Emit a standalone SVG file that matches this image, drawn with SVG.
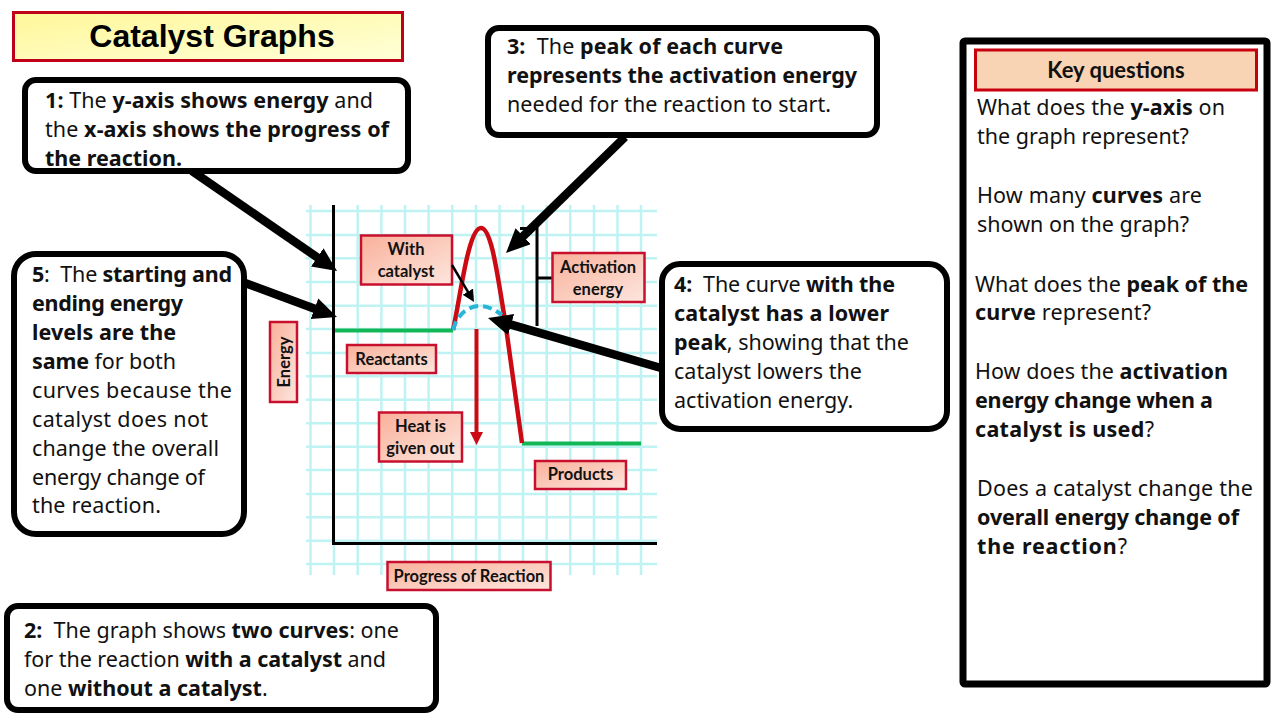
<svg xmlns="http://www.w3.org/2000/svg" width="1280" height="720" viewBox="0 0 1280 720">
<defs>
<linearGradient id="ttl" x1="0" y1="0" x2="1" y2="1"><stop offset="0" stop-color="#fff799"/><stop offset="1" stop-color="#ffffd8"/></linearGradient>
<linearGradient id="lab" x1="0" y1="0" x2="1" y2="1"><stop offset="0" stop-color="#f9b09a"/><stop offset="1" stop-color="#fde6de"/></linearGradient>
<marker id="big" markerUnits="userSpaceOnUse" markerWidth="26" markerHeight="24" refX="6" refY="11" orient="auto"><path d="M0 0L24 11L0 22Z" fill="#000"/></marker>
<marker id="small" markerUnits="userSpaceOnUse" markerWidth="14" markerHeight="14" refX="4" refY="6" orient="auto"><path d="M0 0L12 6L0 12Z" fill="#000"/></marker>
</defs>
<style>
text{font-family:"Noto Sans","Open Sans","Liberation Sans",sans-serif;fill:#111}
.b{font-weight:700}
.box{fill:#fff;stroke:#000;stroke-width:6}
.t{font-size:21.500px}
.q{font-size:21.500px}
.lab{fill:url(#lab);stroke:#c8102e;stroke-width:2.500}
.lt{font-family:Lato,"Liberation Sans",sans-serif;font-size:16.500px;font-weight:700;text-anchor:middle}
.arr{stroke:#000;stroke-width:8.500;fill:none}
</style>
<rect width="1280" height="720" fill="#fff"/>

<g id="title"><rect x="13.500" y="12.500" width="389" height="48" fill="url(#ttl)" stroke="#c00018" stroke-width="3"/>
<text x="212" y="47" text-anchor="middle" style="font-family:'Liberation Sans',sans-serif;font-size:32px;font-weight:700;fill:#000">Catalyst Graphs</text></g>

<g id="graph">
<path d="M306 211H657M306 235H657M306 258.300H657M306 282H657M306 305.700H657M306 329H657M306 353H657M306 376.300H657M306 399.700H657M306 423.300H657M306 446.700H657M306 470H657M306 494H657M306 517.300H657M306 540.700H657M306 564H657M310.500 205V575M334 205V575M357.700 205V575M381.400 205V575M405 205V575M428.600 205V575M452.300 205V575M476 205V575M499.600 205V575M523 205V575M546.700 205V575M570.300 205V575M594 205V575M617.500 205V575M641 205V575" fill="none" stroke="#bff3f3" stroke-width="2.500"/>
<path d="M333.500 205V543.500H657" fill="none" stroke="#000" stroke-width="3"/>
<path d="M335 330.500H453M522 443.500H641" fill="none" stroke="#12b858" stroke-width="4"/>
<path d="M453 330C460 300 468 228 481 228C492 228 498 280 505 320L522 443" fill="none" stroke="#cc0a14" stroke-width="4.500"/>
<path d="M453 330C458 312 470 306 480 306C488 306 495 310 502 315" fill="none" stroke="#29b5d8" stroke-width="4" stroke-dasharray="9 5"/>
<path d="M476.500 329V433" fill="none" stroke="#cc0a14" stroke-width="4"/>
<path d="M470 432H483L476.500 445Z" fill="#cc0a14"/>
<path d="M520 228.500H537V326M537 278H552" fill="none" stroke="#000" stroke-width="3"/>
</g>

<g id="label-with-catalyst"><rect class="lab" x="361" y="235.500" width="91" height="49"/><text class="lt" x="406" y="255">With</text><text class="lt" x="406" y="277">catalyst</text></g>
<g id="label-activation"><rect class="lab" x="552.500" y="253" width="92" height="49"/><text class="lt" x="598" y="273">Activation</text><text class="lt" x="598" y="295">energy</text></g>
<g id="label-reactants"><rect class="lab" x="347" y="345" width="89" height="28"/><text class="lt" x="391.500" y="365">Reactants</text></g>
<g id="label-heat"><rect class="lab" x="379" y="412.500" width="83" height="49"/><text class="lt" x="420.500" y="432">Heat is</text><text class="lt" x="420.500" y="454">given out</text></g>
<g id="label-products"><rect class="lab" x="535" y="461" width="91" height="28"/><text class="lt" x="580.500" y="480">Products</text></g>
<g id="label-progress"><rect class="lab" x="387.500" y="562" width="163" height="28"/><text class="lt" x="469" y="582">Progress of Reaction</text></g>
<g id="label-energy"><rect class="lab" x="270" y="322" width="27" height="80"/><text class="lt" transform="translate(290 362) rotate(-90)">Energy</text></g>

<g id="connectors">
<path class="arr" d="M192 171L322.200 260.800" marker-end="url(#big)"/>
<path class="arr" d="M245 283L320.100 310.800" marker-end="url(#big)"/>
<path class="arr" d="M625 137L518.900 240.400" marker-end="url(#big)"/>
<path class="arr" d="M661 368L505.300 323" marker-end="url(#big)"/>
<path d="M452 265L469.900 295.100" stroke="#000" stroke-width="2.500" fill="none" marker-end="url(#small)"/>
</g>

<g id="box1"><rect class="box" x="25" y="80" width="383" height="91" rx="11"/>
<text class="t" x="45" y="108" textLength="328"><tspan class="b">1:</tspan> The <tspan class="b">y-axis shows energy</tspan> and</text>
<text class="t" x="45" y="137" textLength="344">the <tspan class="b">x-axis shows the progress of</tspan></text>
<text class="t b" x="45" y="166">the reaction.</text></g>

<g id="box3"><rect class="box" x="488" y="28" width="389" height="107" rx="11"/>
<text class="t" x="507" y="54" textLength="276"><tspan class="b">3:</tspan>&#160; The <tspan class="b">peak of each curve</tspan></text>
<text class="t b" x="507" y="83" textLength="350">represents the activation energy</text>
<text class="t" x="507" y="112" textLength="324">needed for the reaction to start.</text></g>

<g id="box5"><rect class="box" x="14" y="254" width="230" height="280" rx="22"/>
<text class="t" x="32" y="282" textLength="200"><tspan class="b">5</tspan>:&#160; The <tspan class="b">starting and</tspan></text>
<text class="t b" x="32" y="311" textLength="151">ending energy</text>
<text class="t b" x="32" y="340" textLength="144">levels are the</text>
<text class="t" x="32" y="369" textLength="144"><tspan class="b">same</tspan> for both</text>
<text class="t" x="32" y="398" textLength="200">curves because the</text>
<text class="t" x="32" y="427" textLength="176">catalyst does not</text>
<text class="t" x="32" y="456" textLength="187">change the overall</text>
<text class="t" x="32" y="485" textLength="173">energy change of</text>
<text class="t" x="32" y="513" textLength="129">the reaction.</text></g>

<g id="box4"><rect class="box" x="662" y="264" width="285" height="165" rx="18"/>
<text class="t" x="674" y="292" textLength="221"><tspan class="b">4:</tspan>&#160; The curve <tspan class="b">with the</tspan></text>
<text class="t b" x="674" y="321" textLength="215">catalyst has a lower</text>
<text class="t" x="674" y="350" textLength="235"><tspan class="b">peak</tspan>, showing that the</text>
<text class="t" x="674" y="379" textLength="188">catalyst lowers the</text>
<text class="t" x="674" y="408">activation energy.</text></g>

<g id="box2"><rect class="box" x="7" y="606" width="429" height="104" rx="11"/>
<text class="t" x="24" y="638" textLength="375"><tspan class="b">2:</tspan>&#160; The graph shows <tspan class="b">two curves</tspan>: one</text>
<text class="t" x="24" y="667" textLength="362">for the reaction <tspan class="b">with a catalyst</tspan> and</text>
<text class="t" x="24" y="696">one <tspan class="b">without a catalyst</tspan>.</text></g>

<g id="key-questions"><rect x="963" y="41" width="304" height="643" fill="#fff" stroke="#000" stroke-width="7" rx="2"/>
<rect x="975.500" y="50" width="281" height="40" fill="#f8d3b4" stroke="#c8000e" stroke-width="3"/>
<text x="1116" y="78" text-anchor="middle" style="font-family:Lato,'Liberation Sans',sans-serif;font-size:22px;font-weight:700">Key questions</text>
<text class="q" x="977" y="115" textLength="248">What does the <tspan class="b">y-axis</tspan> on</text>
<text class="q" x="977" y="144">the graph represent?</text>
<text class="q" x="977" y="203" textLength="225">How many <tspan class="b">curves</tspan> are</text>
<text class="q" x="977" y="232">shown on the graph?</text>
<text class="q" x="975" y="292" textLength="273">What does the <tspan class="b">peak of the</tspan></text>
<text class="q" x="975" y="320" textLength="176"><tspan class="b">curve</tspan> represent?</text>
<text class="q" x="975" y="379" textLength="253">How does the <tspan class="b">activation</tspan></text>
<text class="q" x="975" y="408" textLength="238"><tspan class="b">energy change when a</tspan></text>
<text class="q" x="975" y="437" textLength="179"><tspan class="b">catalyst is used</tspan>?</text>
<text class="q" x="977" y="496" textLength="276">Does a catalyst change the</text>
<text class="q" x="977" y="525" textLength="262"><tspan class="b">overall energy change of</tspan></text>
<text class="q" x="977" y="554" textLength="150"><tspan class="b">the reaction</tspan>?</text></g>
</svg>
